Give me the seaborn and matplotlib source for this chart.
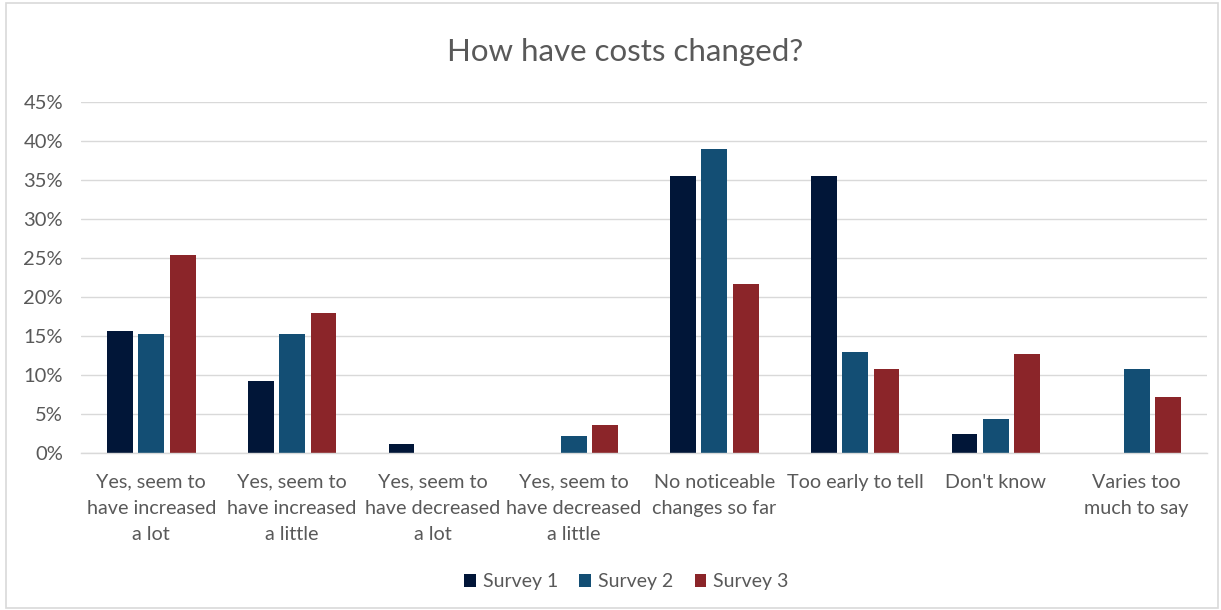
import matplotlib
matplotlib.use("Agg")
import matplotlib.pyplot as plt
import seaborn as sns
import pandas as pd
from matplotlib.patches import Rectangle, Patch
from matplotlib.ticker import PercentFormatter

categories = [
    "Yes, seem to\nhave increased\na lot",
    "Yes, seem to\nhave increased\na little",
    "Yes, seem to\nhave decreased\na lot",
    "Yes, seem to\nhave decreased\na little",
    "No noticeable\nchanges so far",
    "Too early to tell",
    "Don't know",
    "Varies too\nmuch to say",
]
series_names = ["Survey 1", "Survey 2", "Survey 3"]
survey1 = [15.6, 9.2, 1.2, 0.0, 35.5, 35.5, 2.5, 0.0]
survey2 = [15.2, 15.2, 0.0, 2.2, 39.0, 13.0, 4.3, 10.8]
survey3 = [25.4, 18.0, 0.0, 3.6, 21.7, 10.8, 12.7, 7.2]
colors = ["#011638", "#134e74", "#8b2529"]
title = "How have costs changed?"

rows = []
for name, vals in zip(series_names, [survey1, survey2, survey3]):
    for c, v in zip(categories, vals):
        rows.append({"category": c, "series": name, "value": v})
df = pd.DataFrame(rows)

sns.set_theme(style="white")
plt.rcParams["font.family"] = ["Lato", "DejaVu Sans"]

fig = plt.figure(figsize=(12.21, 6.10), dpi=100)
ax = fig.add_axes([81 / 1221, 157 / 610, 1126 / 1221, 351 / 610])

sns.barplot(data=df, x="category", y="value", hue="series", order=categories,
            hue_order=series_names, palette=colors, width=0.67, gap=0.18,
            ax=ax, legend=False, saturation=1, linewidth=0)

ax.set_ylim(0, 45)
ax.set_yticks(range(0, 46, 5))
ax.yaxis.set_major_formatter(PercentFormatter(decimals=0))
ax.grid(axis="y", color="#d9d9d9", linewidth=1)
ax.set_axisbelow(True)
for s in ["top", "right", "left"]:
    ax.spines[s].set_visible(False)
ax.spines["bottom"].set_color("#d9d9d9")
ax.spines["bottom"].set_linewidth(1)
ax.set_xlabel("")
ax.set_ylabel("")
ax.tick_params(axis="y", length=0, pad=13, labelsize=14.5, labelcolor="#595959")
ax.tick_params(axis="x", length=0, pad=15, labelsize=14.2, labelcolor="#595959")
for lab in ax.get_xticklabels():
    lab.set_linespacing(1.66)
    lab.set_verticalalignment("top")

fig.text(0.512, 1 - 52 / 610, title, ha="center", va="center",
         fontsize=22.5, color="#595959")

handles = [Patch(facecolor=c, edgecolor="none") for c in colors]
leg = fig.legend(handles, series_names, loc="center", bbox_to_anchor=(0.513, 1 - 582 / 610),
                 ncol=3, frameon=False, fontsize=14, handlelength=0.6, handleheight=0.6,
                 handletextpad=0.35, columnspacing=1.1)
for t in leg.get_texts():
    t.set_color("#595959")

fig.patches.append(Rectangle((6 / 1221, 2 / 610), 1212 / 1221, 605 / 610,
                             transform=fig.transFigure, fill=False,
                             edgecolor="#d9d9d9", linewidth=1.2))

fig.savefig("out.png", dpi=100)
